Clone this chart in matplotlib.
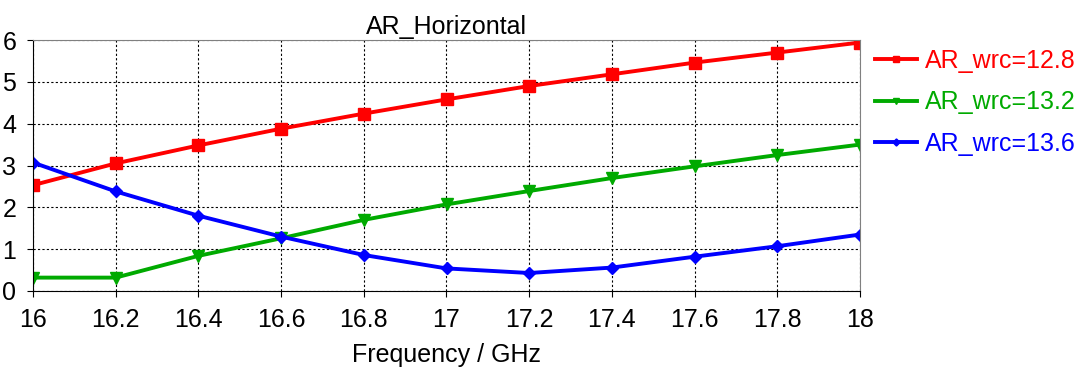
import numpy as np
import matplotlib.pyplot as plt

# Axial ratio sweep over frequency for three wrc values
freq = [16.0, 16.2, 16.4, 16.6, 16.8, 17.0, 17.2, 17.4, 17.6, 17.8, 18.0]
ar_128 = [2.53, 3.05, 3.48, 3.88, 4.24, 4.58, 4.90, 5.18, 5.46, 5.70, 5.94]
ar_132 = [0.32, 0.32, 0.84, 1.26, 1.70, 2.07, 2.39, 2.70, 2.98, 3.25, 3.50]
ar_136 = [3.07, 2.38, 1.80, 1.30, 0.86, 0.54, 0.43, 0.56, 0.82, 1.07, 1.35]

labels = ['AR_wrc=12.8', 'AR_wrc=13.2', 'AR_wrc=13.6']
colors = ['#ff0000', '#00aa00', '#0000ff']
markers = ['s', 'v', 'D']

plt.rcParams['font.family'] = ['Liberation Sans', 'DejaVu Sans']
fs = 18

fig = plt.figure(figsize=(10.79, 3.70), dpi=100)
ax = fig.add_axes([33 / 1079, 1 - 291 / 370, 827 / 1079, 251 / 370])

handles = []
for y, c, m, lab in zip([ar_128, ar_132, ar_136], colors, markers, labels):
    ms = 6 if m == 'D' else 8
    h, = ax.plot(freq, y, color=c, marker=m, markersize=ms, linewidth=2.8, label=lab)
    handles.append(h)

ax.set_xlim(16, 18)
ax.set_ylim(0, 6)
ax.set_xticks(np.arange(16, 18.01, 0.2))
ax.set_xticklabels(['16', '16.2', '16.4', '16.6', '16.8', '17', '17.2', '17.4', '17.6', '17.8', '18'])
ax.set_yticks(range(0, 7))
ax.tick_params(labelsize=fs, length=4, direction='out', colors='black')
ax.tick_params(axis='x', pad=8)
ax.tick_params(axis='y', pad=8)
ax.grid(True, color='black', linestyle=(0, (2, 2)), linewidth=0.8)

for side in ['top', 'right']:
    ax.spines[side].set_color('#808080')
for side in ['left', 'bottom']:
    ax.spines[side].set_color('black')

ax.set_title('AR_Horizontal', fontsize=fs, pad=4)
ax.set_xlabel('Frequency / GHz', fontsize=fs, labelpad=8)

leg = ax.legend(handles=handles, loc='upper left', bbox_to_anchor=(1.018, 0.965),
                frameon=False, fontsize=fs, handlelength=1.7, handletextpad=0.3,
                labelspacing=0.7, borderaxespad=0, borderpad=0, markerscale=0.6)
for txt, c in zip(leg.get_texts(), colors):
    txt.set_color(c)

fig.savefig('out.png', dpi=100)
